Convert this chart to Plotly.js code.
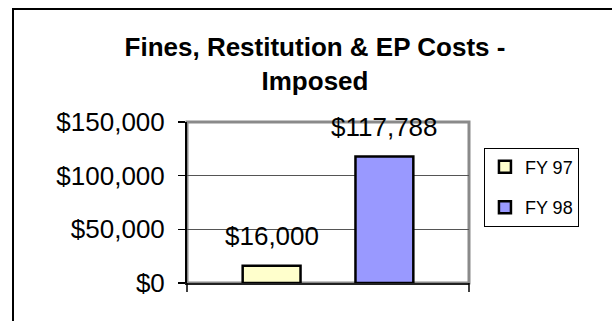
<!DOCTYPE html>
<html>
<head>
<meta charset="utf-8">
<script src="https://cdn.plot.ly/plotly-3.0.1.min.js"></script>
<style>
  html, body { margin: 0; padding: 0; background: #fff; overflow: hidden; }
  #frame { position: absolute; left: 12px; top: 8px; width: 800px; height: 500px;
           border-left: 2px solid #000; border-top: 2px solid #000; }
  #chart { position: absolute; left: 0; top: 0; width: 612px; height: 321px; }
</style>
</head>
<body>
<div id="frame"></div>
<div id="chart"></div>
<script>
// ---- data ----
const chartTitle = "Fines, Restitution & EP Costs -<br>Imposed";
const categories = ["FY 97", "FY 98"];
const seriesNames = ["FY 97", "FY 98"];
const values = [16000, 117788];
const yTickValues = [0, 50000, 100000, 150000];

// ---- styles ----
const barColors = ["#FFFFCC", "#9999FF"];
const FONT = "Liberation Sans, Arial, sans-serif";

const traces = seriesNames.map((name, i) => ({
  type: "bar",
  name: name,
  legendgroup: name,
  x: [categories[i]],
  y: [values[i]],
  marker: { color: barColors[i], line: { color: "#000", width: 2.5 } },
  hoverinfo: "none"
}));

const annotations = categories.map((c, i) => ({
  x: c, y: values[i], xref: "x", yref: "y",
  text: "$" + values[i].toLocaleString("en-US"),
  showarrow: false, yanchor: "middle", yshift: 30,
  font: { family: FONT, size: 26, color: "#000" }
}));

const layout = {
  width: 612, height: 321,
  margin: { l: 187, r: 143, t: 122, b: 38, pad: 0 },
  paper_bgcolor: "rgba(0,0,0,0)",
  plot_bgcolor: "#fff",
  font: { family: FONT, color: "#000" },
  showlegend: true,
  barmode: "overlay",
  bargap: 0.487,
  title: {
    text: chartTitle,
    font: { family: FONT, size: 26, weight: "bold", color: "#000" },
    xref: "container", x: 0.5147, xanchor: "center",
    yref: "container", y: 1 - 56 / 321, yanchor: "top"
  },
  xaxis: {
    type: "category",
    range: [-0.75, 1.75],
    showticklabels: false,
    ticks: "",
    showgrid: false,
    showline: true, linecolor: "#222", linewidth: 2,
    fixedrange: true
  },
  yaxis: {
    range: [0, 150000],
    tickvals: yTickValues,
    tickformat: "$,d",
    ticks: "outside", ticklen: 7, tickwidth: 1.5, tickcolor: "#000",
    ticklabelstandoff: 8,
    tickfont: { family: FONT, size: 26, color: "#000" },
    showgrid: true, gridcolor: "#555", gridwidth: 1,
    showline: true, linecolor: "#000", linewidth: 2,
    zeroline: false,
    fixedrange: true
  },
  legend: {
    x: 1.053, xanchor: "left", xref: "paper",
    y: 0.841, yanchor: "top", yref: "paper",
    bgcolor: "#fff", bordercolor: "#000", borderwidth: 1,
    font: { family: FONT, size: 18, color: "#000" },
    traceorder: "grouped", tracegroupgap: 14
  },
  annotations: annotations,
  shapes: [
    { type: "rect", xref: "paper", yref: "paper", x0: 0, x1: 1, y0: 0, y1: 1,
      line: { color: "#8a8a8a", width: 3 }, layer: "below" },
    { type: "line", xref: "paper", yref: "paper", x0: 0, x1: 0,
      ysizemode: "pixel", yanchor: 0, y0: 0, y1: -9, line: { color: "#000", width: 1.5 } },
    { type: "line", xref: "paper", yref: "paper", x0: 1, x1: 1,
      ysizemode: "pixel", yanchor: 0, y0: 0, y1: -9, line: { color: "#000", width: 1.5 } }
  ]
};

Plotly.newPlot("chart", traces, layout, { displayModeBar: false, staticPlot: true });
</script>
</body>
</html>
